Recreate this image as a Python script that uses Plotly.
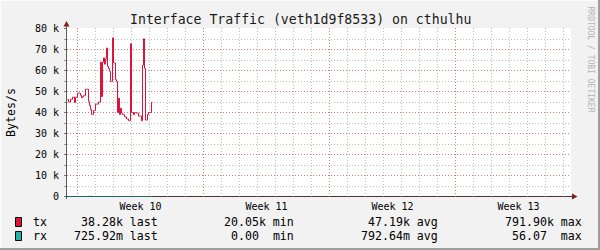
import plotly.graph_objects as go

# ---------------- data ----------------
title_text = "Interface Traffic (veth1d9f8533) on cthulhu"
y_title = "Bytes/s"
watermark = "RRDTOOL / TOBI OETIKER"

week_labels = ["Week 10", "Week 11", "Week 12", "Week 13"]
week_start_hours = [0, 168, 336, 504]
week_center_hours = [84, 252, 420, 588]
x_range_hours = [-14, 658]

y_tick_values = [0, 10000, 20000, 30000, 40000, 50000, 60000, 70000, 80000]
y_tick_text = ["0", "10 k", "20 k", "30 k", "40 k", "50 k", "60 k", "70 k", "80 k"]

# RRD samples (80 minute step) starting before week 10
sample_start_hours = -13.333
sample_step_hours = 1.3333
tx_kbytes = [
    46.3, 45.0, 45.0, 46.3, 46.3, 47.3, 47.3, 44.8, 47.3, 47.3,
    49.2, 49.2, 49.2, 48.2, 47.0, 47.5, 48.0, 48.0, 51.1, 51.1,
    51.1, 45.3, 43.4, 41.5, 39.1, 39.1, 40.9, 40.9, 44.0, 44.0,
    44.0, 45.0, 45.0, 64.0, 47.6, 64.0, 66.0, 63.0, 65.5, 70.7,
    62.0, 61.0, 59.6, 54.8, 54.8, 75.5, 63.6, 63.6, 55.6, 54.8,
    40.0, 46.8, 39.0, 42.0, 39.7, 39.0, 39.0, 37.9, 37.9, 36.9,
    36.9, 36.1, 36.1, 72.8, 40.0, 40.0, 39.0, 40.0, 40.0, 39.7,
    39.7, 38.3, 38.3, 38.3, 36.1, 62.5, 75.1, 61.0, 36.4, 36.4,
    39.0, 40.0, 40.0, 40.0, 44.9,
]
rx_step_hours = 6.6667
rx_bytes = [0.85, 0.62, 0.94, 0.71, 56.07, 0.66, 0.78, 0.58, 0.92,
            0.81, 0.69, 0.74, 0.88, 0.63, 0.79, 0.95, 0.73]

series_names = ["tx", "rx"]
series_colors = ["#DC143C", "#20B2AA"]
legend_last = ["38.28k last", "725.92m last"]
legend_min = ["20.05k min", "0.00\u00a0\u00a0min"]
legend_avg = ["47.19k avg", "792.64m avg"]
legend_max = ["791.90k max", "56.07\u00a0\u00a0max"]

# ---------------- layout geometry ----------------
W, H = 600, 250
L, T, R, B = 67, 28, 29, 53
PW = W - L - R
PH = H - T - B
FONT = "DejaVu Sans Mono"


def px(p):
    return (p - L) / PW


def py(p):
    return (T + PH - p) / PH


tx_t = [sample_start_hours + i * sample_step_hours for i in range(len(tx_kbytes) + 1)]
tx_y = [v * 1000 for v in tx_kbytes] + [tx_kbytes[-1] * 1000]
rx_t = [sample_start_hours + i * rx_step_hours for i in range(len(rx_bytes) + 1)]
rx_y = rx_bytes + [rx_bytes[-1]]

fig = go.Figure()
fig.add_trace(go.Scatter(x=rx_t, y=rx_y, mode="lines", line=dict(color="#1A6E69", width=1, shape="hv"),
                         cliponaxis=False, showlegend=False, hoverinfo="skip"))
fig.add_trace(go.Scatter(x=tx_t, y=tx_y, mode="lines", line=dict(color=series_colors[0], width=1, shape="hv"),
                         showlegend=False, hoverinfo="skip"))
# invisible trace to activate label axis
fig.add_trace(go.Scatter(x=[week_center_hours[0]], y=[None], xaxis="x2", showlegend=False, hoverinfo="skip"))

major_grid = "rgba(222,79,79,0.6)"
minor_grid = "rgba(143,143,143,0.6)"
dash = "1px,2px"

fig.update_layout(
    width=W, height=H,
    margin=dict(l=L, r=R, t=T, b=B, pad=0),
    paper_bgcolor="#F2F2F2", plot_bgcolor="#FFFFFF",
    font=dict(family=FONT, size=10, color="#000000"),
    xaxis=dict(range=x_range_hours, tickvals=week_start_hours, showticklabels=False,
               showgrid=True, gridcolor=major_grid, griddash=dash, gridwidth=1,
               ticks="", zeroline=False, showline=False,
               minor=dict(dtick=24, tick0=0, showgrid=True, gridcolor=minor_grid, griddash=dash, ticks="")),
    xaxis2=dict(range=x_range_hours, overlaying="x", anchor="y", side="bottom",
                tickvals=week_center_hours, ticktext=week_labels, showgrid=False, ticks="",
                zeroline=False, showline=False, tickfont=dict(family=FONT, size=10, color="#000"),
                ticklabelstandoff=2),
    yaxis=dict(range=[-238.1, 80238.1], tickvals=y_tick_values, ticktext=y_tick_text,
               showgrid=True, gridcolor=major_grid, griddash=dash, gridwidth=1,
               ticks="outside", ticklen=2, tickcolor="#777", zeroline=False, showline=False,
               tickfont=dict(family=FONT, size=10, color="#000"), ticklabelstandoff=3,
               minor=dict(dtick=5000, tick0=0, showgrid=True, gridcolor=minor_grid, griddash=dash,
                          ticks="outside", ticklen=2, tickcolor="#999")),
)

shapes = []
# frame shading
shapes.append(dict(type="rect", xref="paper", yref="paper", x0=px(0), x1=px(600), y0=py(0), y1=py(1),
                   fillcolor="#FCFCFC", line=dict(width=0), layer="above"))
shapes.append(dict(type="rect", xref="paper", yref="paper", x0=px(0), x1=px(1), y0=py(0), y1=py(250),
                   fillcolor="#FCFCFC", line=dict(width=0), layer="above"))
shapes.append(dict(type="rect", xref="paper", yref="paper", x0=px(598), x1=px(600), y0=py(0), y1=py(250),
                   fillcolor="#9E9E9E", line=dict(width=0), layer="above"))
shapes.append(dict(type="rect", xref="paper", yref="paper", x0=px(0), x1=px(600), y0=py(248), y1=py(250),
                   fillcolor="#9E9E9E", line=dict(width=0), layer="above"))
# axes
shapes.append(dict(type="line", xref="paper", yref="paper", x0=px(66.5), x1=px(66.5), y0=py(199), y1=py(24),
                   line=dict(color="#5A5A5A", width=1), layer="below"))
shapes.append(dict(type="line", xref="paper", yref="paper", x0=px(64), x1=px(573), y0=py(196.5), y1=py(196.5),
                   line=dict(color="#4A3434", width=1), layer="below"))
# arrows
def path(points):
    s = "M " + " L ".join(f"{x},{y}" for x, y in points) + " Z"
    return s

shapes.append(dict(type="path", xref="paper", yref="paper",
                   path=path([(px(66.5), py(21)), (px(63.5), py(26.5)), (px(69.5), py(26.5))]),
                   fillcolor="#801F1F", line=dict(width=0), layer="above"))
shapes.append(dict(type="path", xref="paper", yref="paper",
                   path=path([(px(577.5), py(196.5)), (px(572), py(193.5)), (px(572), py(199.5))]),
                   fillcolor="#801F1F", line=dict(width=0), layer="above"))
# legend boxes
row_py = [222, 236]
for i, c in enumerate(series_colors):
    shapes.append(dict(type="rect", xref="paper", yref="paper", x0=px(15.5), x1=px(21.5),
                       y0=py(row_py[i] - 4.5), y1=py(row_py[i] + 4.5),
                       fillcolor=c, line=dict(color="#000000", width=1), layer="above"))
fig.update_layout(shapes=shapes)

ann = []
ann.append(dict(text=title_text, xref="paper", yref="paper", x=px(300), y=py(19.5), xanchor="center",
                yanchor="middle", showarrow=False, font=dict(family=FONT, size=13.2, color="#1a1a1a")))
ann.append(dict(text=y_title, xref="paper", yref="paper", x=px(10.5), y=py(112.5), xanchor="center",
                yanchor="middle", textangle=-90, showarrow=False, font=dict(family=FONT, size=11.6, color="#000")))
ann.append(dict(text=watermark, xref="paper", yref="paper", x=px(590.5), y=py(59), xanchor="center",
                yanchor="middle", textangle=90, showarrow=False, font=dict(family=FONT, size=8, color="#B4B4B4")))
cols = [(legend_last, 159.5), (legend_min, 296), (legend_avg, 439.5), (legend_max, 583.5)]
for i, name in enumerate(series_names):
    ann.append(dict(text=name, xref="paper", yref="paper", x=px(30.5), y=py(row_py[i]), xanchor="left",
                    yanchor="middle", showarrow=False, font=dict(family=FONT, size=11.6, color="#000")))
    for vals, xr in cols:
        ann.append(dict(text=vals[i], xref="paper", yref="paper", x=px(xr), y=py(row_py[i]), xanchor="right",
                        yanchor="middle", showarrow=False, font=dict(family=FONT, size=11.6, color="#000")))
fig.update_layout(annotations=ann)

fig.write_html("out.html")
